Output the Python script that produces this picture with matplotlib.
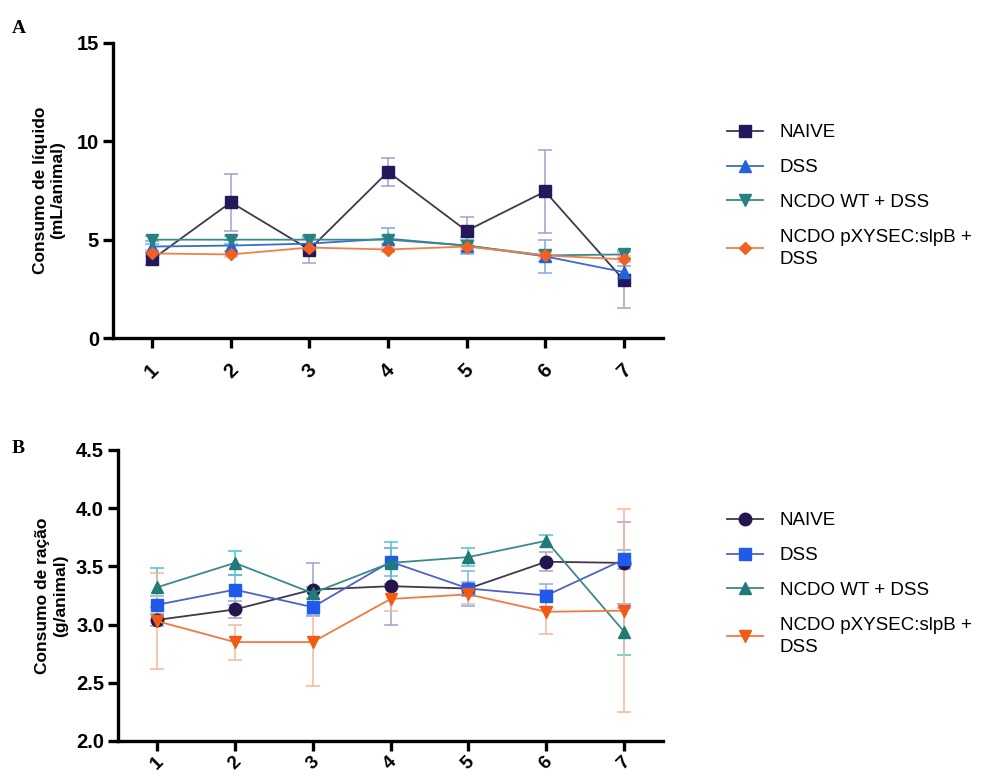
import matplotlib
matplotlib.use("Agg")
import matplotlib.pyplot as plt

plt.rcParams["font.family"] = ["Liberation Sans", "DejaVu Sans"]

DAYS = [1, 2, 3, 4, 5, 6, 7]
DAY_LABELS = ["1", "2", "3", "4", "5", "6", "7"]
GROUPS = ["NAIVE", "DSS", "NCDO WT + DSS", "NCDO pXYSEC:slpB +\nDSS"]

# painel A - consumo de líquido (mL/animal)
naive_a = [4.0, 6.9, 4.5, 8.45, 5.45, 7.45, 2.95]
naive_a_err = [0.3, 1.45, 0.7, 0.7, 0.7, 2.1, 1.4]
dss_a = [4.65, 4.7, 4.8, 5.05, 4.7, 4.15, 3.35]
dss_a_err = [0.3, 0.3, 0.3, 0.55, 0.42, 0.85, 0.3]
wt_a = [5.0, 5.0, 5.0, 5.0, 4.7, 4.2, 4.25]
wt_a_err = [0.2, 0.2, 0.2, 0.2, 0.3, 0.3, 0.2]
px_a = [4.3, 4.25, 4.6, 4.5, 4.65, 4.2, 4.0]
px_a_err = [0.15, 0.15, 0.15, 0.15, 0.15, 0.15, 0.15]

# painel B - consumo de ração (g/animal)
naive_b = [3.04, 3.13, 3.30, 3.33, 3.31, 3.54, 3.53]
naive_b_err = [0.05, 0.07, 0.23, 0.33, 0.06, 0.08, 0.35]
dss_b = [3.17, 3.30, 3.15, 3.54, 3.31, 3.25, 3.56]
dss_b_err = [0.08, 0.13, 0.07, 0.12, 0.15, 0.10, 0.08]
wt_b = [3.32, 3.53, 3.27, 3.53, 3.58, 3.72, 2.94]
wt_b_err = [0.17, 0.10, 0.05, 0.18, 0.08, 0.05, 0.20]
px_b = [3.03, 2.85, 2.85, 3.22, 3.26, 3.11, 3.12]
px_b_err = [0.41, 0.15, 0.38, 0.10, 0.08, 0.19, 0.87]

# (marker, cor do marcador, cor da linha, cor da barra de erro)
STYLE_A = [
    ("s", "#24185a", "#3c3a4c", "#a99cc8"),
    ("^", "#2462d8", "#3a6ad0", "#7fa8ee"),
    ("v", "#2a7f80", "#3a8a8a", "#4cc4d4"),
    ("D", "#f06020", "#f08048", "#f5b89a"),
]
STYLE_B = [
    ("o", "#24154f", "#3c3a4c", "#a99cc8"),
    ("s", "#1f5be8", "#5062c4", "#7fb0ee"),
    ("^", "#1f7a78", "#3a8a8a", "#4cc4d4"),
    ("v", "#f05a14", "#f07a40", "#f5b89a"),
]


def style_axis(ax, xpad, xsize):
    for side in ["top", "right"]:
        ax.spines[side].set_visible(False)
    for side in ["left", "bottom"]:
        ax.spines[side].set_linewidth(2.4)
    ax.tick_params(width=2.4, length=7, labelsize=14.5, pad=3)
    for lab in ax.get_yticklabels():
        lab.set_fontweight("bold")
    ax.set_xticks(DAYS)
    ax.set_xticklabels(DAY_LABELS, rotation=45, fontweight="bold",
                       fontsize=xsize, ha="center", va="top")
    ax.tick_params(axis="x", pad=xpad)
    ax.set_xlim(0.5, 7.5)


def draw_panel(ax, series, errs, styles, msizes):
    for vals, err, st, ms, name in zip(series, errs, styles, msizes, GROUPS):
        mk, mc, lc, ec = st
        ax.errorbar(DAYS, vals, yerr=err, fmt="none", ecolor=ec,
                    elinewidth=1.1, capsize=5, capthick=1.1, zorder=2)
        ax.plot(DAYS, vals, color=lc, lw=1.3, marker=mk, markersize=ms,
                markerfacecolor=mc, markeredgecolor=mc, label=name, zorder=3)


fig = plt.figure(figsize=(9.82, 7.8), dpi=100)

ax_a = fig.add_axes([113 / 982, 1 - 338 / 780, 550 / 982, 295 / 780])
draw_panel(ax_a, [naive_a, dss_a, wt_a, px_a],
           [naive_a_err, dss_a_err, wt_a_err, px_a_err],
           STYLE_A, [8, 8, 8, 6])
ax_a.set_ylim(0, 15)
ax_a.set_yticks([0, 5, 10, 15])
style_axis(ax_a, 9, 14.5)
ax_a.set_ylabel("Consumo de líquido\n(mL/animal)", fontsize=12.5,
                fontweight="bold", labelpad=8)

ax_b = fig.add_axes([118 / 982, 1 - 741 / 780, 545 / 982, 291 / 780])
draw_panel(ax_b, [naive_b, dss_b, wt_b, px_b],
           [naive_b_err, dss_b_err, wt_b_err, px_b_err],
           STYLE_B, [9, 8, 8, 8])
ax_b.set_ylim(2.0, 4.5)
ax_b.set_yticks([2.0, 2.5, 3.0, 3.5, 4.0, 4.5])
ax_b.set_yticklabels(["2.0", "2.5", "3.0", "3.5", "4.0", "4.5"])
style_axis(ax_b, 2, 13.5)
ax_b.set_ylabel("Consumo de ração\n(g/animal)", fontsize=12.5,
                fontweight="bold", labelpad=6)

for ax, y0 in [(ax_a, 124 / 780), (ax_b, 512 / 780)]:
    leg = ax.legend(loc="upper left", bbox_to_anchor=(727 / 982, 1 - y0),
                    bbox_transform=fig.transFigure, frameon=False,
                    fontsize=13.5, handlelength=1.9, handletextpad=0.9,
                    labelspacing=0.95, borderaxespad=0, borderpad=0)
    for t in leg.get_texts():
        t.set_linespacing(1.4)

fig.text(12 / 982, 1 - 33 / 780, "A", family=["Liberation Serif"],
         fontweight="bold", fontsize=14)
fig.text(12 / 982, 1 - 453 / 780, "B", family=["Liberation Serif"],
         fontweight="bold", fontsize=14)

fig.savefig("out.png", dpi=100)
